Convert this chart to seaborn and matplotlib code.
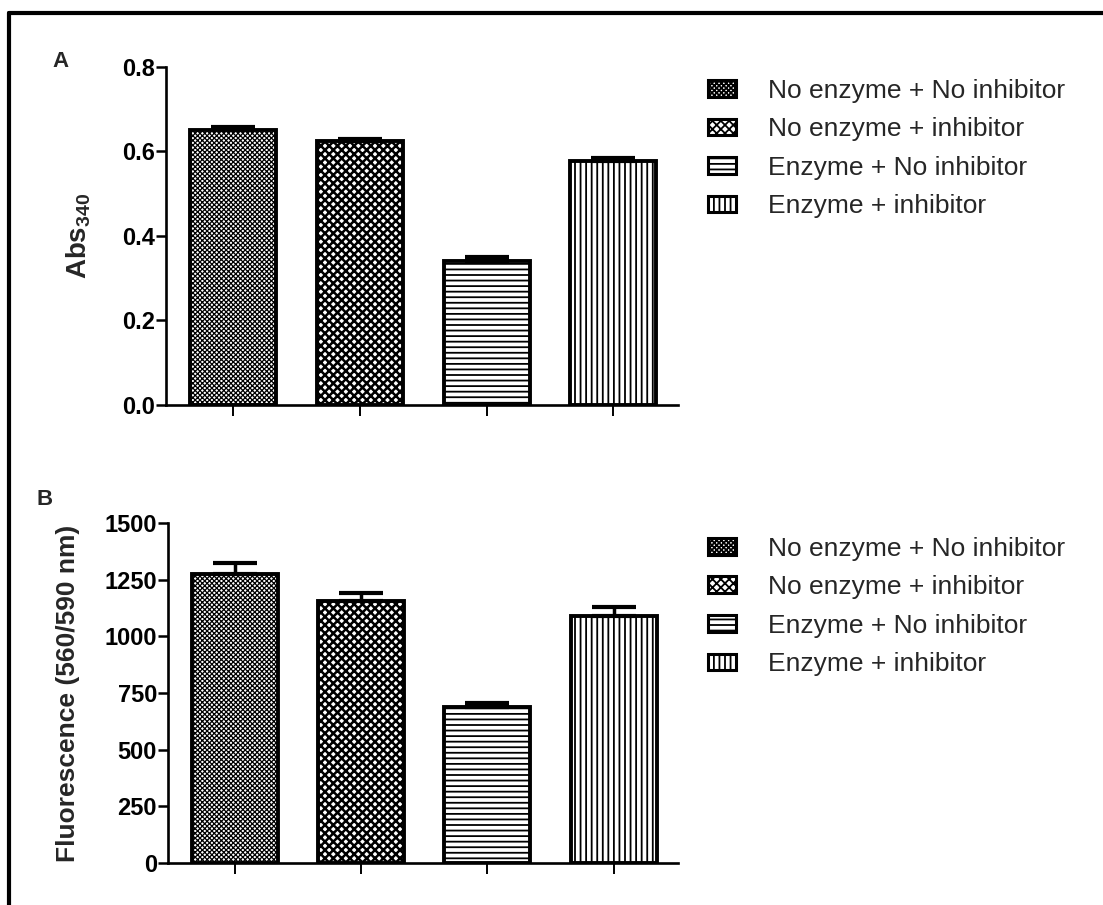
import numpy as np
import pandas as pd
import matplotlib
matplotlib.use("Agg")
import matplotlib.pyplot as plt
import matplotlib.patches as mpatches
from matplotlib.lines import Line2D
import seaborn as sns

# ---------------- data ----------------
conditions = ["No enzyme + No inhibitor", "No enzyme + inhibitor",
              "Enzyme + No inhibitor", "Enzyme + inhibitor"]
abs340_mean = [0.652, 0.625, 0.340, 0.577]
abs340_err = [0.005, 0.004, 0.010, 0.007]
fluor_mean = [1275, 1157, 689, 1090]
fluor_err = [50, 35, 18, 40]
abs_ticks = [0.0, 0.2, 0.4, 0.6, 0.8]
fluor_ticks = [0, 250, 500, 750, 1000, 1250, 1500]

hatches = ["xxxxxxx", "xxxx", "---", "|||"]
hatch_lw = [0.9, 1.8, 1.3, 1.3]

# ---------------- style ----------------
sns.set_theme(style="white")
plt.rcParams["font.family"] = ["Liberation Sans", "DejaVu Sans"]
plt.rcParams["mathtext.fontset"] = "custom"
plt.rcParams["mathtext.bf"] = "Liberation Sans:bold"
plt.rcParams["mathtext.rm"] = "Liberation Sans"
plt.rcParams["hatch.linewidth"] = 1.3
plt.rcParams["hatch.color"] = "black"

fig = plt.figure(figsize=(11.03, 9.05), dpi=100)
fig.patch.set_facecolor("white")

axA = fig.add_axes([0.1505, 0.5525, 0.4642, 0.3735])
axB = fig.add_axes([0.1523, 0.0464, 0.4624, 0.3757])


def style_hatch(patch, h, lw):
    patch.set_hatch(h)
    if hasattr(patch, "set_hatch_linewidth"):
        patch.set_hatch_linewidth(lw)


def draw_panel(ax, means, errs, ticks, ylim, fmt):
    df = pd.DataFrame({"cond": conditions, "value": means})
    sns.barplot(data=df, x="cond", y="value", hue="cond", order=conditions,
                hue_order=conditions, palette=["white"] * 4, width=0.68,
                edgecolor="black", linewidth=2.8, errorbar=None,
                legend=False, ax=ax)
    for patch, h, lw in zip(ax.patches, hatches, hatch_lw):
        style_hatch(patch, h, lw)
        patch.set_facecolor("white")
        patch.set_edgecolor("black")
    ax.errorbar(x=np.arange(len(means)), y=means,
                yerr=[np.zeros(len(errs)), errs], fmt="none",
                ecolor="black", elinewidth=2.5, capsize=16, capthick=3,
                zorder=5)
    ax.set_xlim(-0.53, 3.51)
    ax.set_ylim(*ylim)
    ax.set_yticks(ticks)
    ax.set_yticklabels([fmt(t) for t in ticks], fontsize=17,
                       fontweight="bold")
    ax.set_xticks(np.arange(len(means)))
    ax.set_xticklabels([])
    ax.set_xlabel("")
    for s in ["top", "right"]:
        ax.spines[s].set_visible(False)
    for s in ["left", "bottom"]:
        ax.spines[s].set_linewidth(1.9)
        ax.spines[s].set_color("black")
    ax.tick_params(axis="y", direction="out", length=7, width=1.8,
                   left=True, pad=1, colors="black")
    ax.tick_params(axis="x", direction="out", length=8, width=1.4,
                   bottom=True, colors="black")
    ax.set_facecolor("white")


draw_panel(axA, abs340_mean, abs340_err, abs_ticks, (0, 0.8),
           lambda t: f"{t:.1f}")
draw_panel(axB, fluor_mean, fluor_err, fluor_ticks, (0, 1500),
           lambda t: f"{t:d}")

axA.set_ylabel(r"$\mathbf{Abs_{340}}$", fontsize=20)
axA.yaxis.set_label_coords(-0.143, 0.5)
axB.set_ylabel("Fluorescence (560/590 nm)", fontsize=19, fontweight="bold")
axB.yaxis.set_label_coords(-0.173, 0.5)

# legends
for ax, anchor in [(axA, (0.642, 0.913)), (axB, (0.642, 0.407))]:
    handles = []
    for h, lw, c in zip(hatches, hatch_lw, conditions):
        p = mpatches.Patch(facecolor="white", edgecolor="black",
                           hatch=h, linewidth=2.2, label=c)
        if hasattr(p, "set_hatch_linewidth"):
            p.set_hatch_linewidth(lw)
        handles.append(p)
    fig.legend(handles=handles, loc="upper left", bbox_to_anchor=anchor,
               bbox_transform=fig.transFigure, frameon=False, fontsize=19,
               handlelength=1.06, handleheight=0.6, handletextpad=1.2,
               labelspacing=0.55, borderaxespad=0, borderpad=0)

# panel letters
fig.text(0.0544, 0.9315, "A", fontsize=16, fontweight="bold",
         ha="center", va="center")
fig.text(0.0408, 0.4486, "B", fontsize=16, fontweight="bold",
         ha="center", va="center")

# frame lines (top and left)
fig.add_artist(Line2D([0.0085, 1.0], [0.9856, 0.9856], color="black",
                      linewidth=3, transform=fig.transFigure))
fig.add_artist(Line2D([0.0085, 0.0085], [0.0, 0.9856], color="black",
                      linewidth=3, transform=fig.transFigure))

fig.savefig("out.png", dpi=100, facecolor="white")
